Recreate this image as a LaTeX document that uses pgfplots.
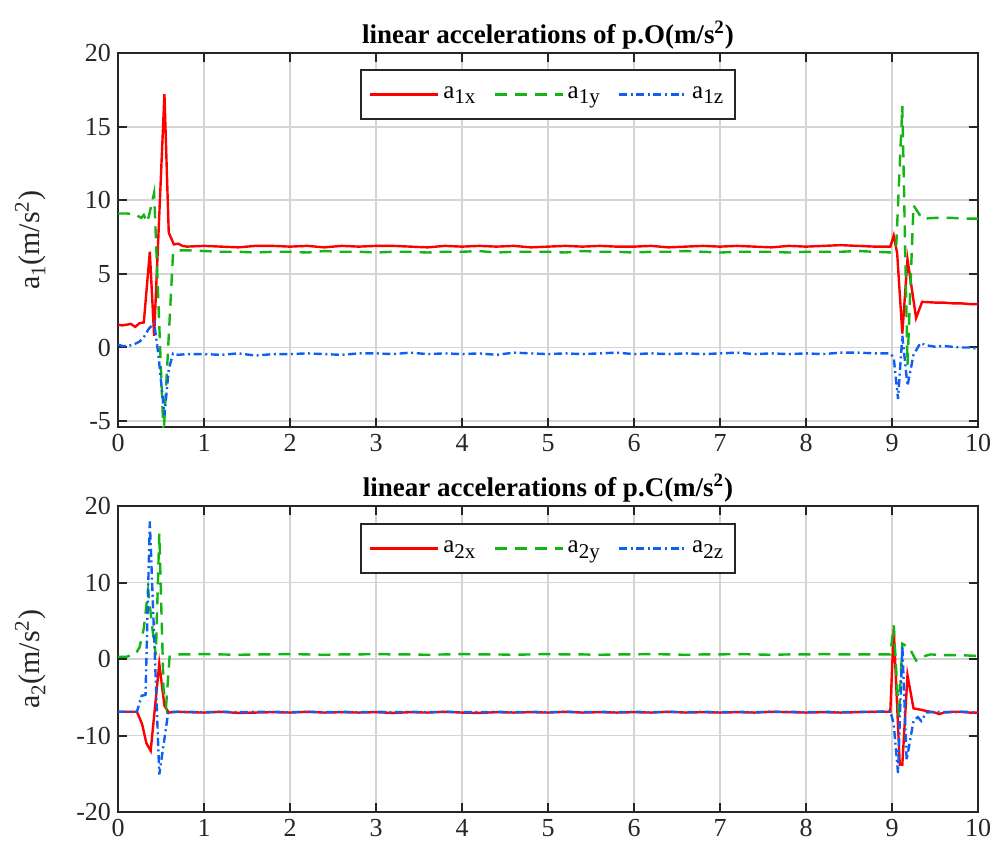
\documentclass[border=0pt]{standalone}
\usepackage{fontspec}
\setmainfont{Liberation Serif}
\usepackage{pgfplots}
\pgfplotsset{compat=1.18}

\definecolor{mred}{RGB}{255,0,0}
\definecolor{mgreen}{RGB}{20,180,20}
\definecolor{mblue}{RGB}{15,95,245}

% subscript a bit larger and lower, as in the reference
\newcommand{\sub}[1]{\raisebox{-0.45ex}{\fontsize{10.5}{12}\selectfont #1}}

\pgfplotsset{
  accstyle/.style={
    scale only axis,
    width=430pt,
    xmin=0, xmax=10,
    xtick={0,1,...,10},
    grid=major,
    grid style={black!17, line width=0.9pt},
    axis line style={black!85, line width=1pt},
    tick align=inside,
    tick style={black!85, line width=1pt},
    major tick length=4.5pt,
    /pgf/number format/assume math mode=true,
    ticklabel style={font=\fontsize{13}{15}\selectfont, text=black!85},
    every axis title shift=0pt,
    title style={font=\fontsize{13.5}{16}\selectfont\bfseries, inner sep=1.5pt},
    ylabel style={at={(axis description cs:-0.102,0.5)}, anchor=center,
      font=\fontsize{15}{17}\selectfont, text=black!85},
    legend columns=3,
    legend image code/.code={\draw[#1] (0pt,0pt) -- (34pt,0pt);},
    legend style={anchor=north, draw=black!85, line width=1pt,
      font=\fontsize{12.5}{14}\selectfont, inner xsep=4pt, inner ysep=6.5pt,
      /tikz/every even column/.append style={column sep=7pt}},
  },
  xser/.style={mred, line width=1.2pt},
  yser/.style={mgreen, line width=1.2pt, dash pattern=on 6pt off 4pt},
  zser/.style={mblue, line width=1.2pt, dash pattern=on 4pt off 1.8pt on 1pt off 1.8pt},
}

\begin{document}
\begin{tikzpicture}
\useasboundingbox (0pt,0pt) rectangle (499.5pt,-422.5pt);

% top: point O
\begin{axis}[accstyle,
  at={(59pt,-213.5pt)}, anchor=south west,
  height=187pt,
  ymin=-5.4, ymax=20,
  ytick={-5,0,5,10,15,20},
  title={linear accelerations of p.O(m/s\textsuperscript{2})},
  ylabel={a\sub{1}(m/s\textsuperscript{2})},
  legend style={at={(0.5,0.957)}},
]
\addplot[xser] coordinates {
(0,1.55)(0.05,1.5)(0.1,1.55)(0.15,1.6)(0.2,1.4)(0.25,1.65)(0.3,1.7)(0.37,6.5)(0.42,0.8)
(0.54,17.2)(0.59,7.8)(0.65,7.0)(0.7,7.05)(0.75,6.9)
(0.8,6.85)(1.0,6.9)(1.2,6.85)(1.4,6.8)(1.6,6.9)(1.8,6.9)(2.0,6.85)(2.2,6.9)(2.4,6.8)(2.6,6.9)
(2.8,6.85)(3.0,6.9)(3.2,6.9)(3.4,6.85)(3.6,6.8)(3.8,6.9)(4.0,6.85)(4.2,6.9)(4.4,6.85)(4.6,6.9)
(4.8,6.8)(5.0,6.85)(5.2,6.9)(5.4,6.85)(5.6,6.9)(5.8,6.85)(6.0,6.85)(6.2,6.9)(6.4,6.8)(6.6,6.85)
(6.8,6.9)(7.0,6.85)(7.2,6.9)(7.4,6.85)(7.6,6.8)(7.8,6.9)(8.0,6.85)(8.2,6.9)(8.4,6.95)(8.6,6.9)
(8.8,6.85)(8.98,6.85)(9.02,7.6)(9.06,6.4)(9.12,0.95)(9.18,6.0)(9.28,2.0)(9.35,3.1)
(9.5,3.05)(9.6,3.05)(9.7,3.0)(9.8,3.0)(9.9,2.95)(10,2.95)
};
\addlegendentry{a\sub{1x}}
\addplot[yser] coordinates {
(0,9.1)(0.1,9.1)(0.2,9.05)(0.27,8.8)(0.3,9.0)(0.34,8.5)(0.37,9.2)(0.42,10.5)(0.53,-6.0)
(0.64,6.4)(0.7,6.6)
(0.8,6.6)(1.0,6.55)(1.2,6.5)(1.4,6.5)(1.6,6.45)(1.8,6.5)(2.0,6.5)(2.2,6.45)(2.4,6.55)(2.6,6.5)
(2.8,6.5)(3.0,6.45)(3.2,6.5)(3.4,6.5)(3.6,6.45)(3.8,6.5)(4.0,6.5)(4.2,6.55)(4.4,6.45)(4.6,6.5)
(4.8,6.5)(5.0,6.5)(5.2,6.45)(5.4,6.55)(5.6,6.5)(5.8,6.5)(6.0,6.45)(6.2,6.5)(6.4,6.5)(6.6,6.55)
(6.8,6.5)(7.0,6.45)(7.2,6.5)(7.4,6.5)(7.6,6.5)(7.8,6.45)(8.0,6.5)(8.2,6.5)(8.4,6.5)(8.6,6.55)
(8.8,6.5)(9.0,6.45)(9.05,7.0)(9.12,16.4)(9.18,-1.2)(9.25,9.65)(9.35,8.75)
(9.5,8.8)(9.7,8.8)(9.85,8.75)(10,8.75)
};
\addlegendentry{a\sub{1y}}
\addplot[zser] coordinates {
(0,0.2)(0.05,0.1)(0.1,0.1)(0.15,0.15)(0.2,0.25)(0.25,0.4)(0.3,0.7)(0.35,1.2)(0.42,1.7)
(0.47,-0.5)(0.54,-4.6)(0.59,-1.5)(0.64,-0.4)(0.7,-0.5)
(0.8,-0.45)(1.0,-0.45)(1.2,-0.5)(1.4,-0.4)(1.6,-0.55)(1.8,-0.45)(2.0,-0.45)(2.2,-0.4)(2.4,-0.45)(2.6,-0.5)
(2.8,-0.4)(3.0,-0.4)(3.2,-0.45)(3.4,-0.35)(3.6,-0.45)(3.8,-0.4)(4.0,-0.45)(4.2,-0.4)(4.4,-0.5)(4.6,-0.35)
(4.8,-0.4)(5.0,-0.45)(5.2,-0.4)(5.4,-0.45)(5.6,-0.4)(5.8,-0.35)(6.0,-0.45)(6.2,-0.4)(6.4,-0.45)(6.6,-0.4)
(6.8,-0.45)(7.0,-0.4)(7.2,-0.35)(7.4,-0.45)(7.6,-0.4)(7.8,-0.45)(8.0,-0.4)(8.2,-0.45)(8.4,-0.35)(8.6,-0.35)
(8.8,-0.4)(8.98,-0.4)(9.02,-0.7)(9.07,-3.5)(9.12,0.8)(9.18,-2.6)(9.25,-0.5)(9.33,0.3)
(9.4,0.15)(9.5,0.05)(9.6,0.1)(9.7,0.05)(9.8,0.0)(9.9,0.0)(10,-0.1)
};
\addlegendentry{a\sub{1z}}
\end{axis}

% bottom: point C
\begin{axis}[accstyle,
  at={(59pt,-406pt)}, anchor=south west,
  height=153pt,
  ymin=-20, ymax=20,
  ytick={-20,-10,0,10,20},
  title={linear accelerations of p.C(m/s\textsuperscript{2})},
  ylabel={a\sub{2}(m/s\textsuperscript{2})},
  legend style={at={(0.5,0.944)}},
]
\addplot[xser] coordinates {
(0,-6.9)(0.1,-6.9)(0.22,-6.9)(0.28,-8.5)(0.33,-11.0)(0.38,-12.0)(0.48,-0.6)(0.54,-6.1)
(0.59,-7.0)(0.7,-6.9)
(0.8,-6.95)(1.0,-7.0)(1.2,-6.9)(1.4,-7.05)(1.6,-7.0)(1.8,-6.95)(2.0,-7.0)(2.2,-6.9)(2.4,-7.0)(2.6,-6.95)
(2.8,-7.0)(3.0,-6.95)(3.2,-7.05)(3.4,-6.95)(3.6,-7.0)(3.8,-6.9)(4.0,-7.0)(4.2,-7.05)(4.4,-6.95)(4.6,-7.0)
(4.8,-6.95)(5.0,-7.0)(5.2,-6.9)(5.4,-7.0)(5.6,-6.95)(5.8,-7.0)(6.0,-6.95)(6.2,-7.0)(6.4,-6.9)(6.6,-7.0)
(6.8,-6.95)(7.0,-7.0)(7.2,-6.95)(7.4,-7.0)(7.6,-6.9)(7.8,-6.95)(8.0,-7.0)(8.2,-6.95)(8.4,-7.0)(8.6,-6.95)
(8.8,-6.9)(8.98,-6.9)(9.02,3.9)(9.09,-13.8)(9.12,-13.8)(9.18,-2.1)(9.25,-6.45)(9.32,-6.6)
(9.4,-6.8)(9.5,-7.0)(9.55,-7.2)(9.6,-7.0)(9.7,-6.9)(9.8,-6.9)(9.9,-7.0)(10,-7.0)
};
\addlegendentry{a\sub{2x}}
\addplot[yser] coordinates {
(0,0.3)(0.1,0.3)(0.2,0.6)(0.25,1.5)(0.3,4.0)(0.35,9.0)(0.4,4.0)(0.44,0.5)(0.48,16.4)
(0.53,-4.0)(0.56,-6.0)(0.6,0.3)(0.7,0.6)
(0.8,0.6)(1.0,0.65)(1.2,0.6)(1.4,0.55)(1.6,0.6)(1.8,0.6)(2.0,0.65)(2.2,0.6)(2.4,0.55)(2.6,0.6)
(2.8,0.6)(3.0,0.65)(3.2,0.6)(3.4,0.6)(3.6,0.55)(3.8,0.6)(4.0,0.65)(4.2,0.6)(4.4,0.6)(4.6,0.55)
(4.8,0.6)(5.0,0.65)(5.2,0.6)(5.4,0.6)(5.6,0.55)(5.8,0.6)(6.0,0.6)(6.2,0.65)(6.4,0.6)(6.6,0.55)
(6.8,0.6)(7.0,0.6)(7.2,0.65)(7.4,0.6)(7.6,0.55)(7.8,0.6)(8.0,0.6)(8.2,0.65)(8.4,0.6)(8.6,0.6)
(8.8,0.6)(8.98,0.6)(9.02,4.4)(9.08,-7.7)(9.12,2.0)(9.2,1.5)(9.28,-0.2)(9.35,0.3)
(9.45,0.6)(9.6,0.5)(9.8,0.5)(10,0.4)
};
\addlegendentry{a\sub{2y}}
\addplot[zser] coordinates {
(0,-6.9)(0.1,-6.9)(0.22,-6.9)(0.275,-4.8)(0.32,-4.7)(0.37,18.0)(0.48,-15.1)(0.585,-6.9)
(0.7,-6.9)
(0.8,-6.9)(1.0,-6.95)(1.2,-6.9)(1.4,-6.95)(1.6,-6.9)(1.8,-6.9)(2.0,-6.95)(2.2,-6.9)(2.4,-6.95)(2.6,-6.9)
(2.8,-6.95)(3.0,-6.9)(3.2,-6.95)(3.4,-6.9)(3.6,-6.95)(3.8,-6.9)(4.0,-6.95)(4.2,-6.95)(4.4,-6.9)(4.6,-6.95)
(4.8,-6.9)(5.0,-6.95)(5.2,-6.9)(5.4,-6.95)(5.6,-6.9)(5.8,-6.95)(6.0,-6.9)(6.2,-6.95)(6.4,-6.9)(6.6,-6.95)
(6.8,-6.9)(7.0,-6.95)(7.2,-6.9)(7.4,-6.95)(7.6,-6.9)(7.8,-6.9)(8.0,-6.95)(8.2,-6.9)(8.4,-6.95)(8.6,-6.9)
(8.8,-6.9)(8.98,-6.8)(9.02,-8.5)(9.07,-14.9)(9.12,1.75)(9.17,-13.2)(9.25,-8.1)(9.3,-7.6)
(9.34,-8.1)(9.4,-7.0)(9.5,-6.9)(9.7,-6.95)(9.85,-6.9)(10,-7.0)
};
\addlegendentry{a\sub{2z}}
\end{axis}
\end{tikzpicture}
\end{document}
